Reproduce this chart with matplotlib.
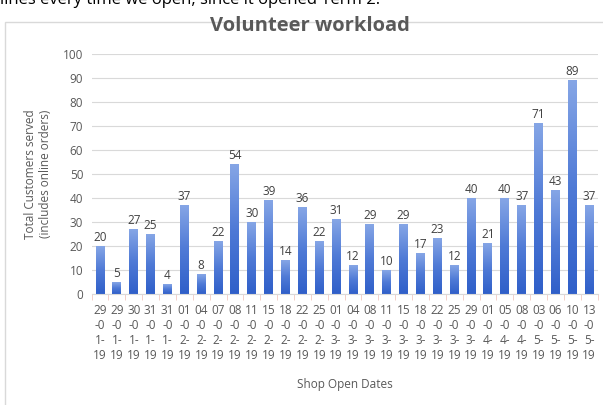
import numpy as np
import matplotlib.pyplot as plt
from matplotlib.patches import Rectangle
from matplotlib.colors import LinearSegmentedColormap

# dates of each shop opening and customers served
dates = ["29-01-19", "29-01-19", "30-01-19", "31-01-19", "31-01-19", "01-02-19",
         "04-02-19", "07-02-19", "08-02-19", "11-02-19", "15-02-19", "18-02-19",
         "22-02-19", "25-02-19", "01-03-19", "04-03-19", "08-03-19", "11-03-19",
         "15-03-19", "18-03-19", "22-03-19", "25-03-19", "29-03-19", "01-04-19",
         "05-04-19", "08-04-19", "03-05-19", "06-05-19", "10-05-19", "13-05-19"]
customers = [20, 5, 27, 25, 4, 37, 8, 22, 54, 30, 39, 14, 36, 22, 31,
             12, 29, 10, 29, 17, 23, 12, 40, 21, 40, 37, 71, 43, 89, 37]
yticks = list(range(0, 101, 10))

plt.rcParams['font.family'] = ['Open Sans', 'DejaVu Sans']
grey = '#595959'

fig = plt.figure(figsize=(6.03, 4.05), dpi=100)

# text of the page above the chart, cut off by the screenshot
fig.text(0.0, 1 - 4 / 405, "lines every time we open, since it opened Term 2.",
         fontsize=12, color='black', va='baseline', ha='left')

# chart frame
fig.patches.append(Rectangle((5 / 603, -0.01), 1.0, 1 - 22 / 405 + 0.01,
                             transform=fig.transFigure, fill=False,
                             edgecolor='#d9d9d9', linewidth=1))

ax = fig.add_axes([91.6 / 603, 1 - 294 / 405, 506 / 603, 240 / 405])

x = np.arange(len(customers))
width = 0.53
grad = np.linspace(0, 1, 256).reshape(-1, 1)
cmap = LinearSegmentedColormap.from_list('bar', ['#2f5fc9', '#4f7ad6', '#86a6e6'])

bars = ax.bar(x, customers, width=width, color='none', edgecolor='none')
for b, v in zip(bars, customers):
    ax.imshow(grad, cmap=cmap, origin='lower', aspect='auto',
              extent=[b.get_x(), b.get_x() + b.get_width(), 0, v], zorder=2)
    ax.text(b.get_x() + b.get_width() / 2, v + 1, str(v), ha='center', va='bottom',
            fontsize=8.5, color='#404040')

ax.set_xlim(-0.5, len(customers) - 0.5)
ax.set_ylim(0, 100)
ax.set_yticks(yticks)
ax.tick_params(axis='y', length=0, labelsize=8.5, labelcolor=grey, pad=6)
ax.yaxis.grid(True, color='#d9d9d9', linewidth=0.8)
ax.set_axisbelow(True)

labels = [d[0:2] + "\n-0\n" + d[4] + "-\n" + d[6:8] for d in dates]
ax.set_xticks(x)
ax.set_xticklabels(labels, fontsize=8.5, color=grey, linespacing=1.2)
ax.set_xticks(np.arange(-0.5, len(customers), 1), minor=True)
ax.tick_params(axis='x', which='major', length=0, pad=7)
ax.tick_params(axis='x', which='minor', length=4, color='#f2c9c0')

for s in ['top', 'right', 'left']:
    ax.spines[s].set_visible(False)
ax.spines['bottom'].set_color('#d9d9d9')

ax.set_ylabel("Total Customers served\n(includes online orders)", fontsize=8.5,
              color=grey, labelpad=8, linespacing=1.2)
ax.set_xlabel("Shop Open Dates", fontsize=8.5, color=grey, labelpad=12)

fig.text(310 / 603, 1 - 26 / 405, "Volunteer workload", ha='center', va='center',
         fontsize=14.5, fontweight='bold', color=grey)

fig.savefig('out.png', dpi=100)
